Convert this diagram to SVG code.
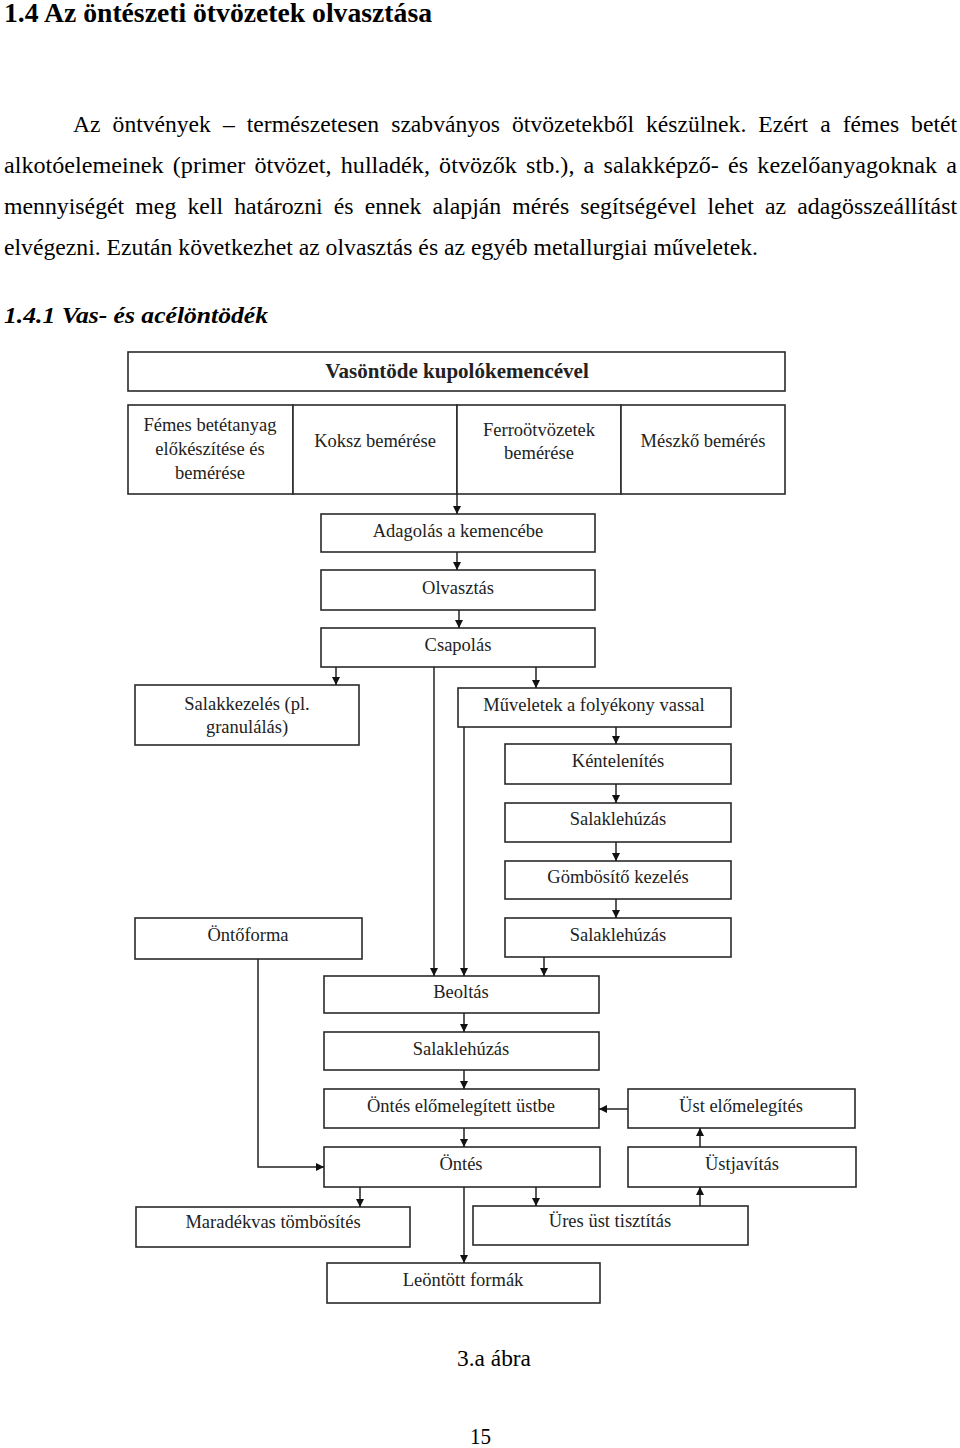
<svg xmlns="http://www.w3.org/2000/svg" width="960" height="1448" viewBox="0 0 960 1448">
<style>
.box{fill:#fff;stroke:#2a2a2a;stroke-width:1.6}
.lbl{font-family:"Liberation Serif","Times New Roman",serif;font-size:18.5px;fill:#222;text-anchor:middle}
.ttl{font-family:"Liberation Serif","Times New Roman",serif;font-size:21px;font-weight:bold;fill:#222;text-anchor:middle}
.par{font-family:"Liberation Serif","Times New Roman",serif;font-size:23px;fill:#000}
.h1{font-family:"Liberation Serif","Times New Roman",serif;font-size:27px;font-weight:bold;fill:#000}
.h2{font-family:"Liberation Serif","Times New Roman",serif;font-size:24px;font-weight:bold;font-style:italic;fill:#000}
.con{fill:none;stroke:#222;stroke-width:1.5}
</style>
<defs>
<marker id="ah" viewBox="0 0 10 10" refX="10" refY="5" markerWidth="8" markerHeight="8" markerUnits="userSpaceOnUse" orient="auto"><path d="M0,0 L10,5 L0,10 z" fill="#111"/></marker>
</defs>
<rect width="960" height="1448" fill="#fff"/>

<g id="page-text">
<text class="h1" x="4" y="22" textLength="428" lengthAdjust="spacingAndGlyphs">1.4 Az öntészeti ötvözetek olvasztása</text>
<text class="par" x="73" y="132" word-spacing="6" textLength="884" lengthAdjust="spacingAndGlyphs">Az öntvények – természetesen szabványos ötvözetekből készülnek. Ezért a fémes betét</text>
<text class="par" x="4" y="173" word-spacing="3" textLength="953" lengthAdjust="spacingAndGlyphs">alkotóelemeinek (primer ötvözet, hulladék, ötvözők stb.), a salakképző- és kezelőanyagoknak a</text>
<text class="par" x="4" y="214" word-spacing="5" textLength="953" lengthAdjust="spacingAndGlyphs">mennyiségét meg kell határozni és ennek alapján mérés segítségével lehet az adagösszeállítást</text>
<text class="par" x="4" y="255" textLength="754" lengthAdjust="spacingAndGlyphs">elvégezni. Ezután következhet az olvasztás és az egyéb metallurgiai műveletek.</text>
<text class="h2" x="4" y="323" textLength="264" lengthAdjust="spacingAndGlyphs">1.4.1 Vas- és acélöntödék</text>
<text class="par" x="457" y="1366" font-size="21" textLength="74" lengthAdjust="spacingAndGlyphs">3.a ábra</text>
<text class="par" x="470" y="1444" font-size="21" textLength="21" lengthAdjust="spacingAndGlyphs">15</text>
</g>

<g id="n-title"><rect class="box" x="128" y="352" width="657" height="39"/><text class="ttl" x="457" y="378">Vasöntöde kupolókemencével</text></g>
<g id="n-femes"><rect class="box" x="128" y="405" width="165" height="89"/><text class="lbl" x="210" y="431">Fémes betétanyag</text><text class="lbl" x="210" y="455">előkészítése és</text><text class="lbl" x="210" y="479">bemérése</text></g>
<g id="n-koksz"><rect class="box" x="293" y="405" width="164" height="89"/><text class="lbl" x="375" y="447">Koksz bemérése</text></g>
<g id="n-ferro"><rect class="box" x="457" y="405" width="164" height="89"/><text class="lbl" x="539" y="436">Ferroötvözetek</text><text class="lbl" x="539" y="459">bemérése</text></g>
<g id="n-meszko"><rect class="box" x="621" y="405" width="164" height="89"/><text class="lbl" x="703" y="447">Mészkő bemérés</text></g>

<g id="n-adagolas"><rect class="box" x="321" y="514" width="274" height="38"/><text class="lbl" x="458" y="537">Adagolás a kemencébe</text></g>
<g id="n-olvasztas"><rect class="box" x="321" y="570" width="274" height="40"/><text class="lbl" x="458" y="594">Olvasztás</text></g>
<g id="n-csapolas"><rect class="box" x="321" y="628" width="274" height="39"/><text class="lbl" x="458" y="651">Csapolás</text></g>
<g id="n-salakkezeles"><rect class="box" x="135" y="685" width="224" height="60"/><text class="lbl" x="247" y="710">Salakkezelés (pl.</text><text class="lbl" x="247" y="733">granulálás)</text></g>
<g id="n-muveletek"><rect class="box" x="458" y="688" width="273" height="39"/><text class="lbl" x="594" y="711">Műveletek a folyékony vassal</text></g>
<g id="n-kentelenites"><rect class="box" x="505" y="744" width="226" height="40"/><text class="lbl" x="618" y="767">Kéntelenítés</text></g>
<g id="n-salaklehuzas1"><rect class="box" x="505" y="803" width="226" height="39"/><text class="lbl" x="618" y="825">Salaklehúzás</text></g>
<g id="n-gombosito"><rect class="box" x="505" y="861" width="226" height="38"/><text class="lbl" x="618" y="883">Gömbösítő kezelés</text></g>
<g id="n-salaklehuzas2"><rect class="box" x="505" y="918" width="226" height="39"/><text class="lbl" x="618" y="941">Salaklehúzás</text></g>
<g id="n-ontoforma"><rect class="box" x="135" y="918" width="227" height="41"/><text class="lbl" x="248" y="941">Öntőforma</text></g>
<g id="n-beoltas"><rect class="box" x="324" y="976" width="275" height="37"/><text class="lbl" x="461" y="998">Beoltás</text></g>
<g id="n-salaklehuzas3"><rect class="box" x="324" y="1032" width="275" height="38"/><text class="lbl" x="461" y="1055">Salaklehúzás</text></g>
<g id="n-ontes-ust"><rect class="box" x="324" y="1089" width="275" height="39"/><text class="lbl" x="461" y="1112">Öntés előmelegített üstbe</text></g>
<g id="n-ust-elomelegites"><rect class="box" x="628" y="1089" width="227" height="39"/><text class="lbl" x="741" y="1112">Üst előmelegítés</text></g>
<g id="n-ontes"><rect class="box" x="324" y="1147" width="276" height="40"/><text class="lbl" x="461" y="1170">Öntés</text></g>
<g id="n-ustjavitas"><rect class="box" x="628" y="1147" width="228" height="40"/><text class="lbl" x="742" y="1170">Üstjavítás</text></g>
<g id="n-maradekvas"><rect class="box" x="136" y="1207" width="274" height="40"/><text class="lbl" x="273" y="1228">Maradékvas tömbösítés</text></g>
<g id="n-ures-ust"><rect class="box" x="473" y="1206" width="275" height="39"/><text class="lbl" x="610" y="1227">Üres üst tisztítás</text></g>
<g id="n-leontott"><rect class="box" x="327" y="1263" width="273" height="40"/><text class="lbl" x="463" y="1286">Leöntött formák</text></g>

<g id="connectors">
<line class="con" x1="457" y1="494" x2="457" y2="514" marker-end="url(#ah)"/>
<line class="con" x1="457" y1="552" x2="457" y2="570" marker-end="url(#ah)"/>
<line class="con" x1="459" y1="610" x2="459" y2="628" marker-end="url(#ah)"/>
<line class="con" x1="336" y1="667" x2="336" y2="685" marker-end="url(#ah)"/>
<line class="con" x1="434" y1="667" x2="434" y2="976" marker-end="url(#ah)"/>
<line class="con" x1="536" y1="667" x2="536" y2="688" marker-end="url(#ah)"/>
<line class="con" x1="464" y1="727" x2="464" y2="976" marker-end="url(#ah)"/>
<line class="con" x1="616" y1="727" x2="616" y2="744" marker-end="url(#ah)"/>
<line class="con" x1="616" y1="784" x2="616" y2="803" marker-end="url(#ah)"/>
<line class="con" x1="616" y1="842" x2="616" y2="861" marker-end="url(#ah)"/>
<line class="con" x1="616" y1="899" x2="616" y2="918" marker-end="url(#ah)"/>
<line class="con" x1="544" y1="957" x2="544" y2="976" marker-end="url(#ah)"/>
<line class="con" x1="464" y1="1013" x2="464" y2="1032" marker-end="url(#ah)"/>
<line class="con" x1="464" y1="1070" x2="464" y2="1089" marker-end="url(#ah)"/>
<line class="con" x1="464" y1="1128" x2="464" y2="1147" marker-end="url(#ah)"/>
<line class="con" x1="628" y1="1109" x2="599" y2="1109" marker-end="url(#ah)"/>
<line class="con" x1="700" y1="1147" x2="700" y2="1128" marker-end="url(#ah)"/>
<line class="con" x1="700" y1="1206" x2="700" y2="1187" marker-end="url(#ah)"/>
<polyline class="con" points="258,959 258,1167 324,1167" marker-end="url(#ah)"/>
<line class="con" x1="360" y1="1187" x2="360" y2="1207" marker-end="url(#ah)"/>
<line class="con" x1="536" y1="1187" x2="536" y2="1206" marker-end="url(#ah)"/>
<line class="con" x1="464" y1="1187" x2="464" y2="1263" marker-end="url(#ah)"/>
</g>
</svg>
